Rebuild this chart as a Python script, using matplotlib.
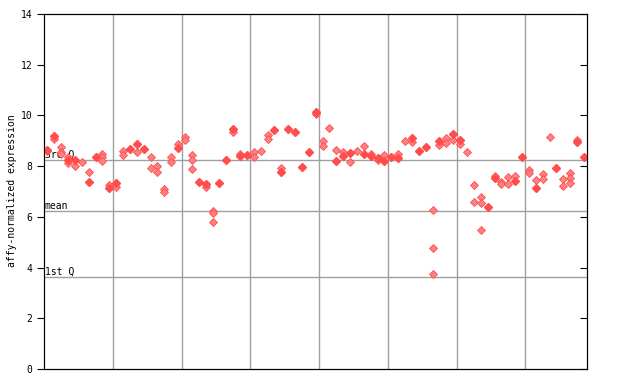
import matplotlib
matplotlib.use("Agg")
import matplotlib.pyplot as plt

# replicate values per sample: (solid points, lighter points)
solid = [
    [8.62], [9.19], [], [8.24], [8.24], [], [7.37], [8.37], [], [7.14],
    [7.34], [], [8.69], [8.89], [8.66], [], [], [], [], [8.70],
    [], [], [7.36], [7.28], [], [7.35], [8.24], [9.47], [8.40], [8.45],
    [], [], [], [9.43], [7.77], [9.48], [9.33], [7.98], [8.56], [10.12],
    [], [], [8.22], [8.41], [8.53], [], [8.49], [8.41], [8.33], [8.22],
    [8.37], [8.32], [], [9.12], [8.61], [8.76], [], [9.00], [], [9.28],
    [9.04], [], [], [], [6.38], [7.53], [], [], [7.41], [8.35],
    [], [7.13], [], [], [7.94], [], [], [8.97], [8.36],
]
light = [
    [8.58], [9.06], [8.74, 8.57, 8.48], [8.35, 8.11], [7.99], [8.15], [7.76], [], [8.48, 8.37, 8.22], [7.24],
    [7.19], [8.60, 8.44], [], [8.57], [], [8.37, 7.91], [8.00, 7.77], [7.10, 6.98], [8.37, 8.15], [8.87],
    [9.14, 9.03], [8.43, 8.24, 7.87], [], [7.19], [6.24, 6.14, 5.78], [], [], [9.36], [8.48], [],
    [8.57, 8.37], [8.60], [9.24, 9.08], [], [7.94], [], [], [], [], [10.04],
    [9.00, 8.81], [9.50], [8.62], [8.54], [8.15], [8.60], [8.78], [8.49], [8.23], [8.43],
    [], [8.49], [8.98], [8.94], [], [], [6.26, 4.76, 3.73], [8.82], [9.10, 8.90], [9.02],
    [8.86], [8.54], [7.24, 6.57], [6.77, 6.53, 5.48], [], [7.62], [7.39, 7.30], [7.56, 7.28], [7.60], [],
    [7.85, 7.72], [7.44], [7.69, 7.48], [9.14], [], [7.48, 7.20], [7.72, 7.52, 7.34], [9.04], [],
]
quartiles = {"3rd Q": 8.23, "mean": 6.22, "1st Q": 3.63}

n = len(solid)

fig = plt.figure(figsize=(6.4, 3.84), dpi=100)
ax = fig.add_axes([0.06875, 0.039, 0.849, 0.9245])

for i in range(n):
    x = i + 0.5
    if light[i]:
        ax.plot([x] * len(light[i]), light[i], "D", ms=3.6, color="#ff8080",
                mec="#ff4c4c", mew=0.6, zorder=3)
    if solid[i]:
        ax.plot([x] * len(solid[i]), solid[i], "D", ms=4.2, color="#ff4c4c",
                mec="#ff4c4c", zorder=4)

for label, val in quartiles.items():
    ax.axhline(val, color="#a0a0a0", lw=1, zorder=1)
    ax.text(0.1, val + 0.02, label, fontsize=7, family="DejaVu Sans Mono",
            va="bottom", ha="left", zorder=2)

for gx in range(10, n, 10):
    ax.axvline(gx, color="#a0a0a0", lw=1, zorder=1)

ax.set_xlim(0, n)
ax.set_ylim(0, 14)
ax.set_yticks(range(0, 15, 2))
ax.set_xticks([])
ax.tick_params(axis="y", direction="out", length=5, labelsize=7)
for lab in ax.get_yticklabels():
    lab.set_family("DejaVu Sans Mono")
fig.text(12 / 640, 1 - 191 / 384, "affy-normalized expression", fontsize=7,
         family="DejaVu Sans Mono", rotation=90, ha="center", va="center")

# inward ticks on the right side
ax2 = ax.twinx()
ax2.set_ylim(0, 14)
ax2.set_yticks(range(0, 15, 2))
ax2.tick_params(axis="y", direction="in", length=5, labelright=False)

fig.savefig("out.png", dpi=100)
